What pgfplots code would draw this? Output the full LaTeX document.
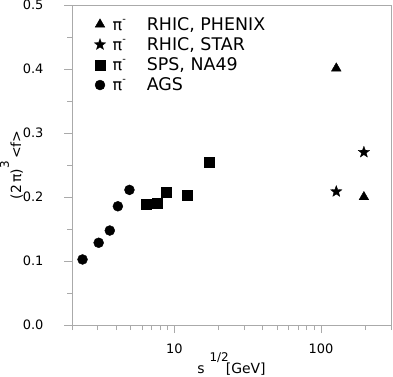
\documentclass[border=0pt]{standalone}
\usepackage{pgfplots}
\pgfplotsset{compat=1.18}
\usepackage{fontspec}
\setmainfont{DejaVu Sans}
\definecolor{axgray}{RGB}{170,170,170}
\pgfdeclareplotmark{fstar}{%
  \pgfpathmoveto{\pgfpointpolar{90}{\pgfplotmarksize}}%
  \pgfpathlineto{\pgfpointpolar{126}{0.42\pgfplotmarksize}}%
  \pgfpathlineto{\pgfpointpolar{162}{\pgfplotmarksize}}%
  \pgfpathlineto{\pgfpointpolar{198}{0.42\pgfplotmarksize}}%
  \pgfpathlineto{\pgfpointpolar{234}{\pgfplotmarksize}}%
  \pgfpathlineto{\pgfpointpolar{270}{0.42\pgfplotmarksize}}%
  \pgfpathlineto{\pgfpointpolar{306}{\pgfplotmarksize}}%
  \pgfpathlineto{\pgfpointpolar{342}{0.42\pgfplotmarksize}}%
  \pgfpathlineto{\pgfpointpolar{18}{\pgfplotmarksize}}%
  \pgfpathlineto{\pgfpointpolar{54}{0.42\pgfplotmarksize}}%
  \pgfpathclose
  \pgfusepathqfillstroke}
\newcommand{\pim}{π\raisebox{0.9ex}{\fontsize{10}{10}\selectfont -}\quad\hspace{5bp}\fontsize{17.5}{18}\selectfont}
\begin{document}
\begin{tikzpicture}
\begin{axis}[
  name=ax,
  scale only axis,
  width=319bp, height=320bp,
  xmode=log,
  xmin=2, xmax=300,
  ymin=0, ymax=0.5,
  log basis x=10,
  xtick={10,100},
  xticklabels={10,100},
  minor xtick={2,3,4,5,6,7,8,9,20,30,40,50,60,70,80,90,200,300},
  ytick={0,0.1,0.2,0.3,0.4,0.5},
  minor ytick={0.05,0.15,0.25,0.35,0.45},
  /pgf/number format/assume math mode=true,
  tick label style={font=\fontsize{13}{15}\selectfont, text=black},
  xticklabel style={yshift=-7bp},
  yticklabel style={xshift=-17bp, /pgf/number format/.cd,fixed,fixed zerofill,precision=1},
  axis line style={axgray, line width=0.8pt},
  tick style={axgray, line width=0.8pt},
  major tick length=8bp,
  minor tick length=5bp,
  tick align=outside,
  xtick pos=bottom, ytick pos=left,
  xlabel={s\hspace{5bp}\raisebox{1.5ex}{\fontsize{12}{14}\selectfont 1/2}\hspace{-3bp}[GeV]},
  ylabel={(2\,π)\raisebox{1.6ex}{\fontsize{12}{14}\selectfont 3}\,<f>},
  every axis x label/.style={at={(axis description cs:0.5,-0.15)}, anchor=base, font=\fontsize{14}{16}\selectfont},
  every axis y label/.style={at={(axis description cs:-0.19,0.5)}, anchor=center, rotate=90, font=\fontsize{14}{16}\selectfont},
  legend style={draw=none, fill=none, at={(0.06,0.975)}, anchor=north west,
    font=\fontsize{16}{18}\selectfont, row sep=1.8pt},
  legend cell align=left,
]
\addplot[only marks, mark=triangle*, mark size=5.6, black] coordinates {(127,0.401) (196,0.200)};
\addlegendentry{\hspace{5bp}\pim RHIC, PHENIX}
\addplot[only marks, mark=fstar, mark size=6, black, mark options={fill=black, line width=0.3pt}] coordinates {(127,0.2085) (196,0.270)};
\addlegendentry{\hspace{5bp}\pim RHIC, STAR}
\addplot[only marks, mark=square*, mark size=5, black] coordinates {(6.40,0.189) (7.59,0.191) (8.81,0.2077) (12.2,0.2033) (17.2,0.254)};
\addlegendentry{\hspace{5bp}\pim SPS, NA49}
\addplot[only marks, mark=*, mark size=5, black] coordinates {(2.36,0.1024) (3.04,0.1285) (3.62,0.1476) (4.11,0.1855) (4.93,0.2111)};
\addlegendentry{\hspace{5bp}\pim AGS}
\end{axis}
\pgfresetboundingbox
\path ([shift={(-72bp,-52bp)}]ax.south west) rectangle ([shift={(2bp,5bp)}]ax.north east);
\end{tikzpicture}
\end{document}
